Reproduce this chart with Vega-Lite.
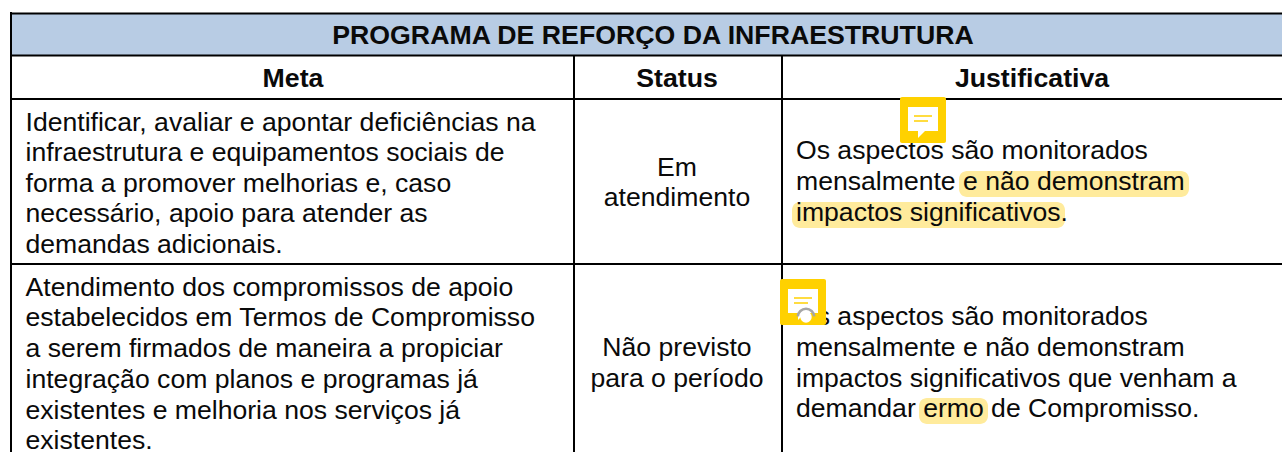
{"$schema":"https://vega.github.io/schema/vega-lite/v6.json","width":1282,"height":452,"padding":0,"autosize":{"type":"none"},"background":"white","config":{"view":{"stroke":null}},
"datasets":{
"fills":[{"h1":12,"h2":1282,"v1":14,"v2":55}],
"marks":[{"h1":959,"h2":1189,"v1":171,"v2":197},{"h1":792,"h2":1065,"v1":202,"v2":228},{"h1":919,"h2":988,"v1":398,"v2":424}],
"lines":[{"h1":10,"h2":1282,"v1":13.5,"v2":13.5},{"h1":10,"h2":1282,"v1":55.5,"v2":55.5},{"h1":10,"h2":1282,"v1":99,"v2":99},{"h1":10,"h2":1282,"v1":264,"v2":264},{"h1":11,"h2":11,"v1":12,"v2":452},{"h1":574,"h2":574,"v1":55,"v2":452},{"h1":782,"h2":782,"v1":55,"v2":452}],
"bold":[{"h":653,"v":44,"t":"PROGRAMA DE REFORÇO DA INFRAESTRUTURA"},{"h":293,"v":87,"t":"Meta"},{"h":677,"v":87,"t":"Status"},{"h":1032,"v":87,"t":"Justificativa"}],
"center":[{"h":677,"v":175.5,"t":"Em"},{"h":677,"v":206,"t":"atendimento"},{"h":677,"v":356,"t":"Não previsto"},{"h":677,"v":386.5,"t":"para o período"}],
"left":[{"h":25.5,"v":130.5,"t":"Identificar, avaliar e apontar deficiências na"},{"h":25.5,"v":161,"t":"infraestrutura e equipamentos sociais de"},{"h":25.5,"v":191.5,"t":"forma a promover melhorias e, caso"},{"h":25.5,"v":222,"t":"necessário, apoio para atender as"},{"h":25.5,"v":252.5,"t":"demandas adicionais."},{"h":25.5,"v":295.5,"t":"Atendimento dos compromissos de apoio"},{"h":25.5,"v":326,"t":"estabelecidos em Termos de Compromisso"},{"h":25.5,"v":357,"t":"a serem firmados de maneira a propiciar"},{"h":25.5,"v":387.5,"t":"integração com planos e programas já"},{"h":25.5,"v":418.5,"t":"existentes e melhoria nos serviços já"},{"h":25.5,"v":449,"t":"existentes."},{"h":796,"v":159,"t":"Os aspectos são monitorados"},{"h":796,"v":190,"t":"mensalmente e não demonstram"},{"h":796,"v":221,"t":"impactos significativos."},{"h":796,"v":325,"t":"Os aspectos são monitorados"},{"h":796,"v":356,"t":"mensalmente e não demonstram"},{"h":796,"v":387,"t":"impactos significativos que venham a"},{"h":796,"v":417,"t":"demandar ermo de Compromisso."}],
"icons":[{"h1":900,"h2":946,"v1":97,"v2":143},{"h1":780,"h2":826,"v1":279,"v2":325}],
"bubbles":[{"h1":908,"h2":938,"v1":107,"v2":131},{"h1":788,"h2":818,"v1":289,"v2":313}],
"tails":[{"h":922,"v":134},{"h":802,"v":316}],
"strokes":[{"h1":914,"h2":932,"v1":116,"v2":116},{"h1":914,"h2":928,"v1":121,"v2":121},{"h1":794,"h2":812,"v1":298,"v2":298},{"h1":794,"h2":808,"v1":303,"v2":303}],
"spinner":[{"h":806,"v":317}]
},
"layer":[
{"data":{"name":"fills"},"mark":{"type":"rect","color":"#B8CCE4"},"encoding":{"x":{"field":"h1","type":"quantitative","scale":{"domain":[0,1282],"nice":false,"zero":false},"axis":null},"x2":{"field":"h2"},"y":{"field":"v1","type":"quantitative","scale":{"domain":[452,0],"nice":false,"zero":false},"axis":null},"y2":{"field":"v2"}}},
{"data":{"name":"marks"},"mark":{"type":"rect","color":"#FFEB9C","cornerRadius":8},"encoding":{"x":{"field":"h1","type":"quantitative"},"x2":{"field":"h2"},"y":{"field":"v1","type":"quantitative"},"y2":{"field":"v2"}}},
{"data":{"name":"lines"},"mark":{"type":"rule","color":"#000000","strokeWidth":2},"encoding":{"x":{"field":"h1","type":"quantitative"},"x2":{"field":"h2"},"y":{"field":"v1","type":"quantitative"},"y2":{"field":"v2"}}},
{"data":{"name":"bold"},"mark":{"type":"text","font":"Liberation Sans","fontSize":26.7,"fontWeight":"bold","align":"center","baseline":"alphabetic","color":"#0a0a0a"},"encoding":{"x":{"field":"h","type":"quantitative"},"y":{"field":"v","type":"quantitative"},"text":{"field":"t"}}},
{"data":{"name":"center"},"mark":{"type":"text","font":"Liberation Sans","fontSize":26.6,"align":"center","baseline":"alphabetic","color":"#0a0a0a"},"encoding":{"x":{"field":"h","type":"quantitative"},"y":{"field":"v","type":"quantitative"},"text":{"field":"t"}}},
{"data":{"name":"left"},"mark":{"type":"text","font":"Liberation Sans","fontSize":26.6,"align":"left","baseline":"alphabetic","color":"#0a0a0a"},"encoding":{"x":{"field":"h","type":"quantitative"},"y":{"field":"v","type":"quantitative"},"text":{"field":"t"}}},
{"data":{"name":"icons"},"mark":{"type":"rect","color":"#FFD100","cornerRadius":2},"encoding":{"x":{"field":"h1","type":"quantitative"},"x2":{"field":"h2"},"y":{"field":"v1","type":"quantitative"},"y2":{"field":"v2"}}},
{"data":{"name":"bubbles"},"mark":{"type":"rect","color":"#FFFFFF"},"encoding":{"x":{"field":"h1","type":"quantitative"},"x2":{"field":"h2"},"y":{"field":"v1","type":"quantitative"},"y2":{"field":"v2"}}},
{"data":{"name":"tails"},"mark":{"type":"point","shape":"M-1,-1L-1,1L1,-1Z","filled":true,"color":"#FFFFFF","opacity":1,"size":64},"encoding":{"x":{"field":"h","type":"quantitative"},"y":{"field":"v","type":"quantitative"}}},
{"data":{"name":"strokes"},"mark":{"type":"rule","color":"#FFD100","strokeWidth":1.5},"encoding":{"x":{"field":"h1","type":"quantitative"},"x2":{"field":"h2"},"y":{"field":"v1","type":"quantitative"},"y2":{"field":"v2"}}},
{"data":{"name":"spinner"},"mark":{"type":"point","shape":"circle","filled":true,"color":"#FFFFFF","opacity":1,"size":130},"encoding":{"x":{"field":"h","type":"quantitative"},"y":{"field":"v","type":"quantitative"}}},
{"data":{"name":"spinner"},"mark":{"type":"arc","color":"#A6A6A6","radius":9.5,"radius2":7,"theta":-1.5,"theta2":1.5},"encoding":{"x":{"field":"h","type":"quantitative"},"y":{"field":"v","type":"quantitative"}}}
]}
